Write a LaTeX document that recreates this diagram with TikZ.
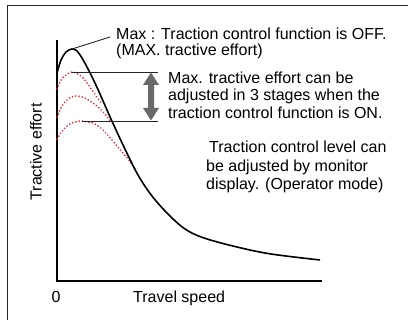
\documentclass[tikz,border=0pt]{standalone}
\usepackage{fontspec}
\setmainfont{Liberation Sans}
\usetikzlibrary{calc}
\definecolor{dotred}{RGB}{235,30,40}
\definecolor{arrgray}{RGB}{105,105,105}
\definecolor{framec}{RGB}{40,40,40}
\begin{document}
\begin{tikzpicture}[x=1pt,y=-1pt,
  txt/.style={font=\fontsize{16}{16}\selectfont, inner sep=0pt, anchor=base west},
  axis/.style={line width=1.5pt, black},
  maincurve/.style={line width=1.6pt, black},
  redcurve/.style={line width=1.9pt, dotred, line cap=round, dash pattern=on 0.01pt off 3.3pt},
  thin/.style={line width=0.9pt, black!85}]
\useasboundingbox (0,0) rectangle (408,320);
% frame
\draw[line width=1pt, framec] (7,320) -- (7,6) -- (408,6);
% axes
\coordinate (ytop) at (57,40);
\coordinate (O) at (57,281);
\coordinate (xend) at (322,281);
\draw[axis] (ytop) -- (O) -- (xend);
% red dotted curves
\draw[redcurve] plot[smooth, tension=0.6] coordinates {(57,89) (61,80) (66,75) (72,72) (78,74) (84,79) (90,87) (96,96) (102,104)};
\draw[redcurve] plot[smooth, tension=0.6] coordinates {(57,117) (62,106) (68,99) (75,96) (82,97) (90,101) (98,107) (105,114) (111,122)};
\draw[redcurve] plot[smooth, tension=0.6] coordinates {(57,139) (63,130) (70,124) (80,121) (88,122) (95,124) (103,130) (112,140) (122,152) (129,160) (135,169)};
% main curve
\coordinate (pk) at (72,49);
\draw[maincurve] plot[smooth, tension=0.55] coordinates {(57,73) (61,60) (66,52) (72,49) (77,51) (82,58) (88,69) (94,81) (100,94) (111,119) (124,147) (138,175) (152,196) (168,214) (185,229) (204,238) (237,247) (271,254) (320,260)};
% level lines
\coordinate (l1a) at (72,72);
\coordinate (l1b) at (158,72);
\coordinate (l3a) at (82,121);
\coordinate (l3b) at (158,121);
\draw[thin] (l1a) -- (l1b);
\draw[thin] (l3a) -- (l3b);
% double arrow
\coordinate (at) at (151,72.5);
\coordinate (ab) at (151,120.5);
\fill[arrgray] (at) -- ++(8,12.5) -- ++(-5,0) -- ($(ab)+(3,-12.5)$) -- ++(5,0) -- (ab) -- ++(-8,-12.5) -- ++(5,0) -- ($(at)+(-3,12.5)$) -- ++(-5,0) -- cycle;
% texts
\node[txt] (t1a) at (116,40) {Max : Traction control function is OFF.};
\node[txt] (t1b) at (116,56) {(MAX. tractive effort)};
\coordinate (lend) at (110,37);
\draw[thin] (pk) -- (lend);
\node[txt] (t2a) at (168,83.5) {Max. tractive effort can be};
\node[txt] (t2b) at (168,101) {adjusted in 3 stages when the};
\node[txt] (t2c) at (168,118.5) {traction control function is ON.};
\node[txt] (t3a) at (209,153) {Traction control level can};
\node[txt] (t3b) at (206,171.5) {be adjusted by monitor};
\node[txt] (t3c) at (206,190) {display. (Operator mode)};
\node[txt, anchor=base] (zero) at (56,303) {0};
\node[txt] (xlab) at (133,303) {Travel speed};
\node[font=\fontsize{16}{16}\selectfont, inner sep=0pt, rotate=90] (ylab) at (36,152) {Tractive effort};
\end{tikzpicture}
\end{document}
